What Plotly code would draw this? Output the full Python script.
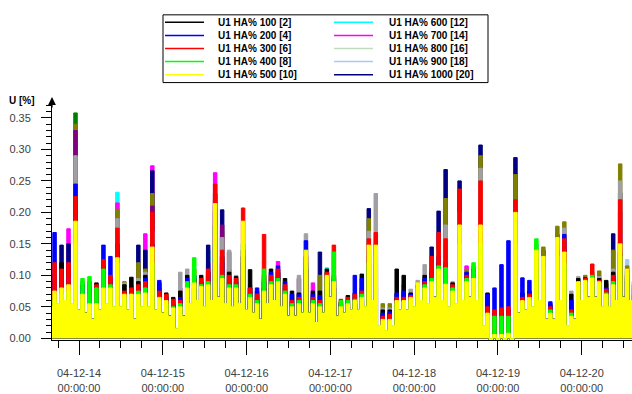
import pandas as pd
import plotly.graph_objects as go

# ---------------- data (U [%], 2-hour bins starting 2004-12-13 15:30) ----------------
bin_start = pd.Timestamp("2004-12-13 15:30")

# low level the signal falls back to between spikes (one value per bin edge)
floor = [.050, .055, .060, .055, .045, .040, .030, .045, .055, .050,
         .050, .045, .030, .050, .050, .045, .040, .035, .015, .035,
         .055, .060, .050, .060, .065, .055, .050, .055, .045, .040,
         .030, .055, .060, .050, .035, .035, .040, .040, .025, .040,
         .065, .035, .040, .045, .045, .050, .060, .020, .012, .020,
         .045, .045, .050, .060, .055, .065, .060, .050, .055, .060,
         .065, .060, .020, -.003, -.003, -.003, -.003, .040, .045, .050,
         .060, .030, .030, .060, .020, .030, .060, .065, .065, .050,
         .050, .060, .065, .060, .060]

u500 = [.075, .080, .085, .186, .070, .055, .055, .080, .080, .128,
        .070, .070, .070, .072, .145, .065, .060, .048, .050, .080,
        .088, .082, .085, .214, .095, .080, .080, .186, .065, .055,
        .075, .085, .090, .070, .050, .055, .140, .055, .050, .100,
        .090, .050, .055, .060, .065, .148, .148, .030, .030, .060,
        .060, .065, .088, .080, .090, .110, .086, .075, .180, .090,
        .095, .180, .040, .006, .006, .008, .200, .060, .065, .140,
        .130, .040, .160, .137, .035, .090, .092, .096, .090, .070,
        .085, .150, .110, .090]
u400 = [.060, .070, .075, .152, .095, .098, .080, .110, .085, .120,
        .065, .070, .075, .080, .120, .060, .055, .050, .055, .090,
        .128, .085, .090, .180, .100, .085, .085, .150, .070, .060,
        .110, .090, .095, .075, .055, .060, .120, .060, .055, .095,
        .137, .060, .060, .062, .070, .120, .130, .025, .028, .055,
        .058, .060, .080, .085, .095, .115, .112, .080, .150, .095,
        .120, .150, .035, .035, .035, .035, .150, .055, .060, .158,
        .110, .045, .130, .120, .040, .085, .090, .100, .088, .072,
        .090, .130, .100, .080]
u300 = [.120, .110, .120, .225, .065, .070, .085, .125, .100, .175,
        .075, .080, .085, .090, .200, .075, .070, .062, .060, .085,
        .095, .095, .110, .245, .140, .100, .095, .207, .080, .070,
        .165, .100, .110, .085, .060, .065, .130, .065, .060, .105,
        .148, .062, .065, .070, .075, .158, .168, .035, .038, .065,
        .065, .068, .085, .090, .130, .168, .158, .085, .237, .100,
        .105, .250, .050, .045, .048, .050, .220, .065, .070, .130,
        .120, .050, .150, .158, .045, .088, .095, .118, .092, .078,
        .100, .220, .110, .085]
u200 = [.168, .095, .100, .245, .080, .090, .070, .148, .130, .150,
        .070, .075, .080, .095, .150, .092, .065, .055, .065, .095,
        .100, .090, .100, .200, .120, .095, .090, .140, .080, .080,
        .090, .105, .115, .090, .070, .070, .155, .070, .068, .100,
        .100, .055, .060, .100, .095, .140, .120, .040, .042, .072,
        .075, .070, .080, .095, .110, .130, .120, .080, .160, .105,
        .100, .170, .070, .080, .117, .155, .130, .096, .092, .120,
        .100, .058, .140, .165, .060, .085, .090, .095, .090, .080,
        .095, .140, .100, .090]
u100 = [.070, .120, .110, .158, .085, .080, .088, .100, .095, .140,
        .085, .097, .090, .100, .130, .088, .072, .065, .075, .100,
        .095, .100, .105, .180, .130, .105, .098, .130, .109, .075,
        .100, .110, .105, .095, .075, .072, .110, .075, .075, .110,
        .095, .058, .068, .072, .102, .130, .110, .045, .045, .110,
        .100, .072, .085, .100, .105, .120, .115, .088, .150, .100,
        .110, .160, .072, .040, .040, .045, .120, .072, .075, .110,
        .105, .052, .130, .130, .070, .095, .096, .100, .095, .092,
        .105, .135, .095, .085]
u1300 = [.060, .090, .095, .290, .088, .075, .080, .090, .090, .190,
         .088, .085, .095, .105, .170, .080, .068, .058, .105, .110,
         .100, .095, .100, .200, .160, .140, .100, .150, .085, .070,
         .095, .100, .105, .085, .065, .100, .166, .070, .070, .100,
         .090, .055, .060, .065, .080, .170, .230, .048, .048, .070,
         .075, .078, .092, .117, .110, .140, .180, .090, .200, .095,
         .100, .270, .060, .040, .042, .045, .200, .065, .070, .150,
         .120, .050, .150, .175, .075, .098, .095, .100, .098, .085,
         .110, .250, .105, .090]
u1200 = [.050, .060, .080, .330, .060, .050, .060, .070, .070, .160,
         .060, .060, .080, .090, .210, .060, .055, .050, .080, .080,
         .080, .080, .090, .210, .180, .137, .080, .120, .070, .055,
         .080, .080, .090, .070, .055, .095, .120, .055, .060, .090,
         .080, .045, .050, .055, .060, .150, .140, .040, .040, .055,
         .055, .055, .065, .080, .090, .120, .150, .065, .170, .080,
         .085, .200, .045, .035, .035, .038, .190, .050, .055, .120,
         .110, .045, .140, .150, .050, .070, .070, .075, .075, .065,
         .100, .200, .100, .080]
u1100 = [.060, .085, .090, .340, .090, .070, .075, .085, .080, .205,
         .090, .080, .120, .110, .230, .075, .065, .055, .070, .090,
         .110, .090, .095, .220, .170, .110, .090, .140, .080, .065,
         .090, .095, .110, .080, .070, .070, .130, .065, .100, .105,
         .090, .055, .058, .060, .070, .190, .150, .055, .055, .065,
         .070, .070, .080, .095, .105, .150, .222, .085, .200, .110,
         .095, .290, .055, .038, .040, .042, .260, .060, .065, .135,
         .145, .055, .178, .185, .060, .088, .100, .105, .107, .088,
         .140, .277, .115, .090]
u1400 = [.040, .050, .060, .358, .050, .040, .040, .050, .050, .100,
         .045, .045, .050, .050, .100, .045, .040, .035, .040, .050,
         .050, .050, .050, .150, .080, .050, .050, .080, .045, .040,
         .050, .050, .060, .045, .040, .040, .070, .040, .045, .055,
         .050, .035, .038, .040, .040, .100, .080, .030, .030, .040,
         .040, .040, .045, .050, .055, .070, .070, .045, .100, .050,
         .055, .120, .035, .025, .025, .028, .100, .040, .040, .080,
         .070, .030, .080, .080, .035, .045, .050, .050, .050, .045,
         .060, .100, .108, .060]
u1000 = [.100, .148, .150, .271, .070, .060, .065, .115, .090, .166,
         .060, .070, .148, .140, .266, .070, .060, .050, .060, .070,
         .080, .090, .148, .230, .204, .090, .080, .130, .075, .060,
         .080, .080, .100, .070, .055, .060, .110, .060, .137, .095,
         .080, .050, .052, .055, .060, .206, .150, .040, .040, .055,
         .060, .060, .070, .085, .145, .202, .268, .070, .250, .090,
         .090, .307, .050, .035, .038, .040, .287, .055, .060, .100,
         .140, .045, .165, .120, .050, .070, .075, .080, .080, .070,
         .166, .231, .090, .070]
u700 = [.050, .060, .174, .286, .060, .050, .055, .060, .060, .215,
        .050, .055, .060, .166, .274, .055, .050, .045, .050, .060,
        .060, .060, .120, .263, .100, .070, .065, .100, .060, .050,
        .060, .065, .122, .060, .050, .050, .090, .088, .055, .080,
        .070, .045, .046, .050, .050, .090, .080, .035, .035, .050,
        .085, .050, .055, .060, .070, .080, .090, .055, .120, .115,
        .115, .100, .040, .030, .030, .032, .090, .045, .050, .080,
        .080, .040, .080, .080, .045, .055, .055, .060, .060, .055,
        .070, .155, .070, .060]
u600 = [.095, .050, .060, .120, .050, .045, .045, .050, .050, .232,
        .045, .045, .050, .050, .090, .045, .040, .040, .045, .050,
        .050, .050, .140, .100, .060, .055, .050, .070, .050, .045,
        .050, .055, .110, .075, .040, .045, .060, .045, .045, .112,
        .060, .040, .040, .042, .045, .060, .060, .030, .030, .040,
        .040, .040, .045, .050, .055, .060, .060, .045, .080, .060,
        .060, .080, .035, .028, .028, .028, .070, .040, .042, .060,
        .060, .035, .060, .060, .035, .045, .045, .048, .048, .045,
        .050, .070, .060, .050]
u900 = [.040, .040, .040, .080, .040, .035, .035, .040, .040, .060,
        .035, .035, .040, .040, .060, .035, .030, .030, .035, .040,
        .040, .040, .040, .070, .050, .040, .040, .050, .035, .035,
        .040, .040, .040, .040, .030, .035, .045, .035, .035, .045,
        .040, .030, .030, .032, .035, .045, .045, .025, .025, .030,
        .030, .030, .035, .038, .040, .045, .045, .038, .050, .040,
        .040, .050, .030, .022, .022, .022, .050, .030, .032, .045,
        .045, .028, .045, .045, .028, .035, .035, .036, .036, .035,
        .038, .050, .125, .060]
u800 = [.045, .045, .050, .090, .045, .040, .040, .045, .045, .070,
        .040, .040, .045, .045, .070, .040, .035, .035, .040, .045,
        .045, .045, .045, .080, .055, .045, .045, .060, .040, .040,
        .045, .045, .045, .045, .035, .040, .050, .040, .040, .050,
        .045, .035, .035, .036, .040, .050, .050, .028, .028, .035,
        .035, .035, .040, .042, .045, .050, .050, .042, .060, .045,
        .045, .060, .032, .025, .025, .025, .055, .035, .036, .050,
        .050, .030, .050, .050, .030, .040, .040, .042, .042, .040,
        .042, .055, .060, .045]

# legend (column-major, as in the reference)
legend_names = ["U1 HA% 100 [2]", "U1 HA% 200 [4]", "U1 HA% 300 [6]", "U1 HA% 400 [8]",
                "U1 HA% 500 [10]", "U1 HA% 600 [12]", "U1 HA% 700 [14]", "U1 HA% 800 [16]",
                "U1 HA% 900 [18]", "U1 HA% 1000 [20]"]
colors = {
    "U1 HA% 100 [2]": "#000000", "U1 HA% 200 [4]": "#0000ff", "U1 HA% 300 [6]": "#ff0000",
    "U1 HA% 400 [8]": "#00ff00", "U1 HA% 500 [10]": "#ffff00", "U1 HA% 600 [12]": "#00ffff",
    "U1 HA% 700 [14]": "#ff00ff", "U1 HA% 800 [16]": "#c0dcc0", "U1 HA% 900 [18]": "#a6caf0",
    "U1 HA% 1000 [20]": "#000080", "U1 HA% 1100 [22]": "#808000", "U1 HA% 1200 [24]": "#800080",
    "U1 HA% 1300 [26]": "#a0a0a4", "U1 HA% 1400 [28]": "#008000",
}
# drawing order (first drawn at the back)
draw = [("U1 HA% 900 [18]", u900), ("U1 HA% 800 [16]", u800), ("U1 HA% 600 [12]", u600),
        ("U1 HA% 700 [14]", u700), ("U1 HA% 1000 [20]", u1000), ("U1 HA% 1400 [28]", u1400),
        ("U1 HA% 1100 [22]", u1100), ("U1 HA% 1200 [24]", u1200), ("U1 HA% 1300 [26]", u1300),
        ("U1 HA% 100 [2]", u100), ("U1 HA% 200 [4]", u200), ("U1 HA% 300 [6]", u300),
        ("U1 HA% 400 [8]", u400), ("U1 HA% 500 [10]", u500)]

# ---------------- figure ----------------
W, H = 632, 394
ML, MR, MT, MB = 52, 0, 100, 46
PW, PH = W - ML - MR, H - MT - MB
FONT = "Liberation Sans, Arial, sans-serif"


def px(x):
    return (x - ML) / PW


def py(y):
    return (H - MB - y) / PH


n_bins = len(u500)
times = [bin_start + pd.Timedelta(hours=h) for h in range(2 * n_bins + 1)]

fig = go.Figure()
for name, hi in draw:
    ys = []
    for i in range(n_bins):
        ys += [floor[i], hi[i]]
    ys.append(floor[n_bins])
    fig.add_trace(go.Scatter(
        x=times, y=ys, mode="lines", name=name, showlegend=False,
        line=dict(color=colors[name], width=1, shape="hv"),
        fill="tozeroy", fillcolor=colors[name], hoverinfo="skip"))

fig.update_layout(
    width=W, height=H, margin=dict(l=ML, r=MR, t=MT, b=MB),
    paper_bgcolor="white", plot_bgcolor="white", showlegend=False,
    font=dict(family=FONT, size=11, color="#404040"),
    xaxis=dict(
        type="date", range=["2004-12-13 16:16", "2004-12-20 14:23"],
        tick0="2004-12-14", dtick=86400000, tickformat="%y-%m-%d<br>%H:%M:%S",
        ticks="outside", ticklen=14, tickcolor="#000", tickwidth=1,
        ticklabelstandoff=9,
        minor=dict(dtick=21600000, ticks="outside", ticklen=7, tickcolor="#000", showgrid=False),
        showline=True, linecolor="#000", linewidth=1, showgrid=False, zeroline=False,
        tickfont=dict(size=11, color="#404040", family=FONT)),
    yaxis=dict(
        range=[-0.0027, 0.3785], tick0=0, dtick=0.05, tickformat=".2f",
        ticks="outside", ticklen=10, tickcolor="#000", tickwidth=1,
        ticklabelstandoff=8,
        minor=dict(dtick=0.01, ticks="outside", ticklen=5, tickcolor="#000", showgrid=False),
        showline=True, linecolor="#000", linewidth=1, showgrid=False, zeroline=False,
        tickfont=dict(size=11, color="#404040", family=FONT)),
)

annotations = [
    dict(x=px(37), y=py(100), xref="paper", yref="paper", text="U [%]", showarrow=False,
         xanchor="right", yanchor="middle",
         font=dict(family=FONT, size=10, color="#000", weight="bold")),
    dict(x=0, y=py(97), xref="paper", yref="paper", text="", showarrow=True,
         ax=0, ay=12, axref="pixel", ayref="pixel", arrowhead=2, arrowsize=1.3,
         arrowwidth=1.2, arrowcolor="#000"),
]
shapes = [dict(type="rect", xref="paper", yref="paper", x0=px(163), x1=px(488),
               y0=py(82), y1=py(12), line=dict(color="#000", width=1), fillcolor="white",
               layer="above")]
row_y = [19.7, 33.3, 46.8, 60.3, 73.8]
col_line = [(165, 204), (334, 373)]
col_text = [216, 386.5]
for k, name in enumerate(legend_names):
    c, r = divmod(k, 5)
    yy = py(row_y[r])
    shapes.append(dict(type="line", xref="paper", yref="paper", x0=px(col_line[c][0]),
                       x1=px(col_line[c][1]), y0=yy, y1=yy,
                       line=dict(color=colors[name], width=1.5), layer="above"))
    annotations.append(dict(x=px(col_text[c]), y=yy, xref="paper", yref="paper", text=name,
                            showarrow=False, xanchor="left", yanchor="middle",
                            font=dict(family=FONT, size=10, color="#000", weight="bold")))
fig.update_layout(annotations=annotations, shapes=shapes)

fig.write_html("out.html")
